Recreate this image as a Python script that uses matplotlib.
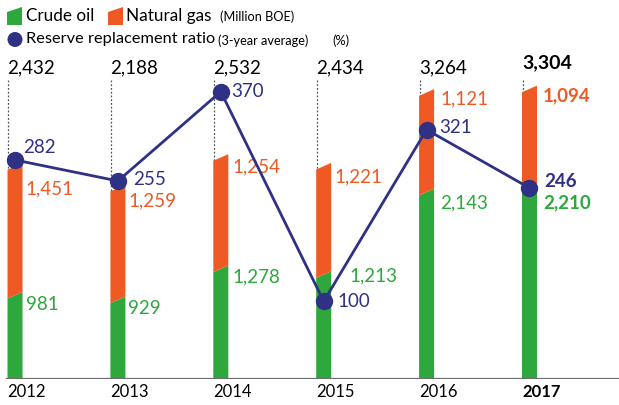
import numpy as np
import matplotlib
matplotlib.use("Agg")
import matplotlib.pyplot as plt
from matplotlib.patches import Polygon, Ellipse
import matplotlib.transforms as mtransforms

# data
years = ["2012", "2013", "2014", "2015", "2016", "2017"]
crude_oil = [981, 929, 1278, 1213, 2143, 2210]
natural_gas = [1451, 1259, 1254, 1221, 1121, 1094]
totals = [2432, 2188, 2532, 2434, 3264, 3304]
ratio = [282, 255, 370, 100, 321, 246]

GREEN = "#2ea83c"
ORANGE = "#ef5a24"
NAVY = "#2f3184"
plt.rcParams["font.family"] = ["Lato", "DejaVu Sans"]

fig = plt.figure(figsize=(6.19, 4.05), dpi=100)
ax = fig.add_axes([0, 26 / 405, 1, 379 / 405])
ax2 = ax.twinx()
for a in (ax, ax2):
    a.set_axis_off()

ax.set_xlim(-0.146, 5.87)
ax.set_ylim(0, 4268)
ax2.set_ylim(0, 488)

x = np.arange(len(years))
w = 0.146
slant = 75  # slanted bar tops, in data units

for i in x:
    l, r = i - w / 2, i + w / 2
    c, t = crude_oil[i], totals[i]
    ax.add_patch(Polygon([(l, 0), (r, 0), (r, c), (l, c - slant)],
                         closed=True, facecolor=GREEN, edgecolor="none", zorder=2))
    ax.add_patch(Polygon([(l, c - slant), (r, c), (r, t), (l, t - slant)],
                         closed=True, facecolor=ORANGE, edgecolor="none", zorder=2))

# baseline
ax.axhline(0, xmin=7 / 619, xmax=1, color="#6d6d6d", lw=1.6, zorder=3)

# totals + dotted leader lines
ytop = ax.get_ylim()[1]
trans = mtransforms.blended_transform_factory(ax.transData, ax.transAxes)
for i in x:
    bold = i == len(years) - 1
    ax.text(i - w / 2, 0.82 if not bold else 0.835, f"{totals[i]:,}", transform=trans,
            ha="left", va="center", fontsize=14 if bold else 13.5,
            fontweight="bold" if bold else "normal", color="black")
    ax.plot([i - w / 2 + 0.006] * 2, [ytop * 0.79, totals[i] - slant], ls=(0, (1.5, 1.5)),
            color="#555555", lw=0.9, zorder=1)

# segment labels
g_off = [(3, -13), (3, -12), (4, -11), (18, -5), (6, -14), (6, -20)]
o_off = [(3, -26), (3, -16), (4, -13), (3, -14), (6, -10), (6, -10)]
r_off = [(8, 12), (15, 1), (10, 0), (14, 0), (13, 2), (15, 6)]
for i in x:
    bold = i == len(years) - 1
    kw = dict(textcoords="offset pixels", ha="left", va="center", fontsize=13.5,
              fontweight="bold" if bold else "normal")
    ax.annotate(f"{crude_oil[i]:,}", (i + w / 2, crude_oil[i]), xytext=g_off[i], color=GREEN, **kw)
    ax.annotate(f"{natural_gas[i]:,}", (i + w / 2, totals[i]), xytext=o_off[i], color=ORANGE, **kw)
    ax2.annotate(f"{ratio[i]}", (i, ratio[i]), xytext=r_off[i], color=NAVY, **kw)

# ratio line
ax2.plot(x, ratio, color=NAVY, lw=2, marker="o", ms=11.5, zorder=5)

# year labels
for i in x:
    bold = i == len(years) - 1
    ax.annotate(years[i], (i - w / 2, 0), xytext=(0, -13), textcoords="offset pixels",
                ha="left", va="center", fontsize=12,
                fontweight="bold" if bold else "normal", color="black")

# legend (drawn by hand, figure pixels)
def fy(py):
    return 1 - py / 405

def fx(px):
    return px / 619

for x0, col in ((7, GREEN), (108, ORANGE)):
    fig.patches.append(Polygon([(fx(x0), fy(25)), (fx(x0 + 15), fy(25)), (fx(x0 + 15), fy(7)),
                                (fx(x0), fy(12))], closed=True, transform=fig.transFigure,
                               facecolor=col, edgecolor="none"))
fig.patches.append(Ellipse((fx(15), fy(39.5)), 15 / 619, 15 / 405, transform=fig.transFigure,
                           facecolor=NAVY, edgecolor="none"))

fig.text(fx(26), fy(16), "Crude oil", ha="left", va="center", fontsize=12.3)
fig.text(fx(126), fy(16), "Natural gas", ha="left", va="center", fontsize=12.3)
fig.text(fx(220), fy(17), "(Million BOE)", ha="left", va="center", fontsize=9.2)
fig.text(fx(26), fy(39.5), "Reserve replacement ratio", ha="left", va="center", fontsize=11.8)
fig.text(fx(218), fy(40.5), "(3-year average)", ha="left", va="center", fontsize=9.2)
fig.text(fx(332), fy(40.5), "(%)", ha="left", va="center", fontsize=9.2)

fig.savefig("out.png", dpi=100)
